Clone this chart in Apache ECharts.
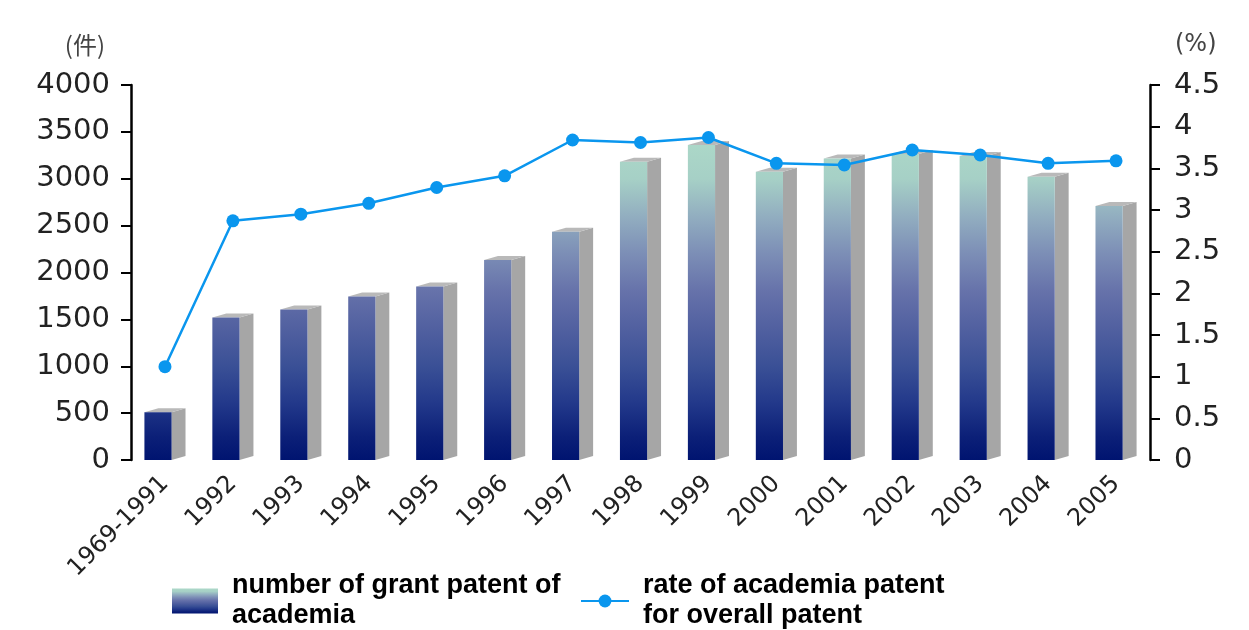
<!DOCTYPE html>
<html>
<head>
<meta charset="utf-8">
<script src="https://cdn.jsdelivr.net/npm/echarts@6/dist/echarts.min.js"></script>
<style>html,body{margin:0;padding:0;background:#fff;}#c{width:1249px;height:630px;}</style>
</head>
<body>
<div id="c"></div>
<script>
var categories = ['1969-1991','1992','1993','1994','1995','1996','1997','1998','1999','2000','2001','2002','2003','2004','2005'];
var grantPatents = [510, 1520, 1605, 1745, 1850, 2133, 2435, 3182, 3360, 3076, 3215, 3265, 3243, 3022, 2709];
var academiaRate = [1.12, 2.87, 2.95, 3.08, 3.27, 3.41, 3.84, 3.81, 3.87, 3.56, 3.54, 3.72, 3.66, 3.56, 3.59];
var leftTicks = {min: 0, max: 4000, interval: 500};
var rightTicks = {min: 0, max: 4.5, interval: 0.5};
var barName = 'number of grant patent of\nacademia';
var lineName = 'rate of academia patent\nfor overall patent';

var gradStops = [
  [0, '#acd8c8'], [0.118, '#a6d0c6'], [0.235, '#92aec0'], [0.353, '#7c8eb6'],
  [0.471, '#6672aa'], [0.588, '#5160a0'], [0.706, '#3a5096'], [0.824, '#22388a'],
  [0.926, '#0c2078'], [1, '#001470']
];
function stopsObj() { return gradStops.map(function (s) { return {offset: s[0], color: s[1]}; }); }

var chart = echarts.init(document.getElementById('c'), null, {renderer: 'canvas'});
var axisFont = 'DejaVu Sans';
var legendText = {fontSize: 27, fontWeight: 'bold', fontFamily: 'Liberation Sans Narrow, Liberation Sans, sans-serif', color: '#000', lineHeight: 30, padding: [0, 0, 0, 9]};

chart.setOption({
  animation: false,
  backgroundColor: '#fff',
  grid: {left: 131, right: 99, top: 85, bottom: 170, containLabel: false},
  legend: [
    {data: [{name: barName, icon: 'rect'}], left: 172, top: 571, padding: 0, itemWidth: 46, itemHeight: 25, textStyle: legendText, selectedMode: false},
    {data: [{name: lineName}], left: 580, top: 571, padding: 0, itemWidth: 48, itemHeight: 16, textStyle: legendText, selectedMode: false}
  ],
  xAxis: {
    type: 'category', data: categories,
    axisLine: {show: false}, axisTick: {show: false},
    axisLabel: {interval: 0, rotate: 45, margin: 20, fontSize: 24, fontFamily: axisFont, color: '#222'}
  },
  yAxis: [
    {
      type: 'value', min: leftTicks.min, max: leftTicks.max, interval: leftTicks.interval,
      name: '(件)', nameLocation: 'end', nameGap: 28,
      nameTextStyle: {fontSize: 24, fontFamily: 'Noto Sans CJK JP', color: '#444', align: 'right', padding: [0, 26, 0, 0]},
      splitLine: {show: false},
      axisLine: {show: true, lineStyle: {color: '#000', width: 2.5}},
      axisTick: {show: true, length: 10, lineStyle: {color: '#000', width: 2}},
      axisLabel: {margin: 21, fontSize: 29, fontFamily: axisFont, color: '#222', formatter: function (v) { return String(v); }}
    },
    {
      type: 'value', min: rightTicks.min, max: rightTicks.max, interval: rightTicks.interval, position: 'right',
      name: '(%)', nameLocation: 'end', nameGap: 28,
      nameTextStyle: {fontSize: 24, fontFamily: axisFont, color: '#444', align: 'left', padding: [0, 0, 0, 25]},
      splitLine: {show: false},
      axisLine: {show: true, lineStyle: {color: '#000', width: 2.5}},
      axisTick: {show: true, length: 10, lineStyle: {color: '#000', width: 2}},
      axisLabel: {margin: 24, fontSize: 29, fontFamily: axisFont, color: '#222', formatter: function (v) { return String(v); }}
    }
  ],
  series: [
    {
      name: barName, type: 'custom', yAxisIndex: 0,
      itemStyle: {color: new echarts.graphic.LinearGradient(0, 0, 0, 1, stopsObj())},
      data: grantPatents.map(function (v, i) { return [i, v]; }),
      encode: {x: 0, y: 1},
      renderItem: function (params, api) {
        var idx = api.value(0), v = api.value(1);
        var top = api.coord([idx, v]);
        var base = api.coord([idx, 0]);
        var gTop = api.coord([idx, 3400])[1];
        var bw = api.size([1, 0])[0];
        var fw = bw * 0.40, sw = bw * 0.205, dy = 4;
        var x0 = top[0] - (fw + sw) / 2, x1 = x0 + fw;
        var yt = top[1], yb = base[1];
        return {
          type: 'group',
          children: [
            {type: 'polygon', shape: {points: [[x1, yt], [x1 + sw, yt - dy], [x1 + sw, yb - dy], [x1, yb]]},
             style: {fill: '#a6a6a6'}},
            {type: 'polygon', shape: {points: [[x0, yt], [x0 + sw, yt - dy], [x1 + sw, yt - dy], [x1, yt]]},
             style: {fill: '#b9b9b9'}},
            {type: 'rect', shape: {x: x0, y: yt, width: fw, height: yb - yt},
             style: {fill: {type: 'linear', x: 0, y: gTop, x2: 0, y2: yb, global: true, colorStops: stopsObj()}}}
          ]
        };
      },
      z: 2
    },
    {
      name: lineName, type: 'line', yAxisIndex: 1, data: academiaRate,
      symbol: 'circle', symbolSize: 13,
      lineStyle: {color: '#0a96ee', width: 2.5},
      itemStyle: {color: '#0a96ee'},
      z: 5
    }
  ]
});
</script>
</body>
</html>
